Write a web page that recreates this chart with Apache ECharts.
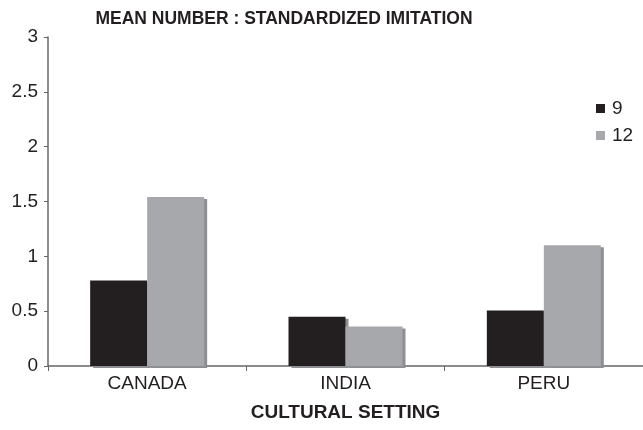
<!DOCTYPE html>
<html><head><meta charset="utf-8">
<script src="https://cdn.jsdelivr.net/npm/echarts@6/dist/echarts.min.js"></script>
<style>html,body{margin:0;padding:0;background:#fff}#c{width:643px;height:430px}</style>
</head><body><div id="c"></div>
<script>
const categories = ['CANADA', 'INDIA', 'PERU'];
const seriesNames = ['9', '12'];
const values9 = [0.78, 0.45, 0.505];
const values12 = [1.54, 0.36, 1.10];
const yTicks = [0, 0.5, 1, 1.5, 2, 2.5, 3];

const font = 'Liberation Sans, Arial, sans-serif';
const chart = echarts.init(document.getElementById('c'));
chart.setOption({
  animation: false,
  title: {
    text: 'MEAN NUMBER : STANDARDIZED IMITATION',
    left: 279, textAlign: 'center', top: 5,
    textStyle: {fontFamily: font, fontSize: 17.5, fontWeight: 'bold', color: '#231f20'}
  },
  legend: {
    orient: 'vertical', left: 591, top: 94,
    itemWidth: 9, itemHeight: 9, itemGap: 8,
    icon: 'rect',
    textStyle: {fontFamily: font, fontSize: 19, color: '#231f20', padding: [0,0,0,2]},
    data: seriesNames
  },
  grid: {left: 48, right: 0, top: 37, bottom: 64, containLabel: false, outerBoundsMode: 'none'},
  xAxis: {
    type: 'category', data: categories,
    name: 'CULTURAL SETTING', nameLocation: 'middle', nameGap: 37,
    nameTextStyle: {fontFamily: font, fontSize: 19, fontWeight: 'bold', color: '#231f20'},
    axisLine: {lineStyle: {color: '#666', width: 1.5}},
    axisTick: {show: true, length: 5, inside: false, lineStyle: {color: '#666'}},
    axisLabel: {fontFamily: font, fontSize: 19, color: '#231f20', margin: 8}
  },
  yAxis: {
    type: 'value', min: 0, max: 3, interval: 0.5,
    axisLine: {show: true, lineStyle: {color: '#666', width: 1.5}},
    axisTick: {show: true, length: 4, lineStyle: {color: '#666'}},
    splitLine: {show: false},
    axisLabel: {fontFamily: font, fontSize: 19, color: '#231f20', margin: 10,
      formatter: v => String(yTicks.find(t => t === v) ?? v)}
  },
  series: [
    {name: '9', type: 'bar', data: values9, barWidth: 57, barGap: '0%',
     itemStyle: {color: '#231f20', shadowColor: '#8e8f92', shadowOffsetX: 3, shadowOffsetY: 2, shadowBlur: 0}},
    {name: '12', type: 'bar', data: values12, barWidth: 57, barGap: '0%',
     itemStyle: {color: '#a7a8ab', shadowColor: '#8e8f92', shadowOffsetX: 3, shadowOffsetY: 2, shadowBlur: 0}}
  ]
});
</script></body></html>
